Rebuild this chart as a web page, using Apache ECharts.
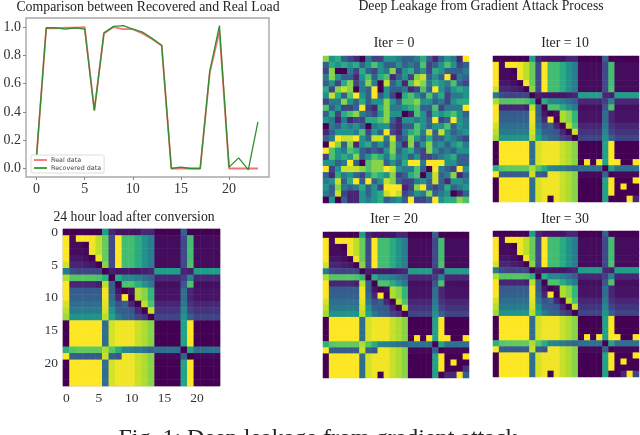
<!DOCTYPE html>
<html>
<head>
<meta charset="utf-8">
<title>Deep leakage from gradient attack</title>
<script src="https://cdn.jsdelivr.net/npm/echarts@6/dist/echarts.min.js"></script>
<style>
    html, body { margin: 0; padding: 0; background: #fff; overflow: hidden; }
    #main { width: 640px; height: 435px; }
    /* the source figure is a soft, rescaled image */
    #main canvas { filter: blur(0.45px); }
</style>
</head>
<body>
<div id="main"></div>
<script>
// line chart values
var hours = [0, 1, 2, 3, 4, 5, 6, 7, 8, 9, 10, 11, 12, 13, 14, 15, 16, 17, 18, 19, 20, 21, 22, 23];
var realData = [0.09, 0.99, 0.99, 0.995, 0.995, 1.0, 0.41, 0.955, 1.0, 0.985, 0.985, 0.955, 0.915, 0.87, 0, 0, 0, 0, 0.68, 0.97, 0, 0, 0, 0];
var recoveredData = [0.09, 0.995, 0.995, 0.985, 0.995, 0.985, 0.41, 0.96, 1.005, 1.01, 0.985, 0.965, 0.92, 0.87, 0, 0.01, 0, 0, 0.69, 1.01, 0.01, 0.075, -0.01, 0.33];
var lineXTicks = [0, 5, 10, 15, 20];
var lineYTicks = [0, 0.2, 0.4, 0.6, 0.8, 1.0];
var heatTicks = [0, 5, 10, 15, 20];

// colour levels 0..10 of each cell, 24 hour load after conversion
var loadMatrix = [
    [0, 0, 0, 0, 0, 0, 5.5, 1, .5, .5, .5, .5, 1, 1, 0, 0, 0, 0, 3, 0, 0, 0, 0, 0],
    [9.8, .3, 9.8, 9.8, 9.6, 8.8, 7.5, 2.2, 9.8, 6.8, 6.8, 6, 5, 4.2, .3, .3, .3, .3, 2.2, 6.8, .3, .3, .3, .3],
    [9.8, .3, .3, 0, 9.6, 8.8, 7.5, 2.2, 9.8, 6.8, 6.8, 6, 5, 4.2, .3, .3, .3, .3, 2.2, 6.8, .3, .3, .3, .3],
    [9.8, .3, .3, .2, 9.6, 8.8, 7.5, 2.2, 9.8, 6.8, 6.8, 6, 5, 4.2, .3, .3, .3, .3, 2.2, 6.8, .3, .3, .3, .3],
    [9.8, .6, .6, .4, 0, 9.6, 7.5, 2.2, 9.8, 6.8, 6.8, 6, 5, 4.2, .3, .3, .3, .3, 2.2, 6.8, .3, .3, .3, .3],
    [9.2, 1, 1, .8, .6, 0, 8, 2.2, 9.8, 6.8, 6.8, 6, 5, 4.2, .3, .3, .3, .3, 2.2, 7, .3, .3, .3, .3],
    [4, 2.2, 2, 2, 2, 2, 0, .8, .6, .6, .6, .6, .8, 1, 5.5, 5.5, 5.5, 5.5, 1, .8, 5.5, 5.5, 5.5, 5.5],
    [8.6, 7.2, 7.2, 7.2, 7.2, 7, 6.2, 0, 6, 4.6, 4.6, 4.2, 3.5, 3, 1, 1, 1, 1, 1.8, 4.4, 1, 1, 1, 1],
    [9.8, 1, 1, 1, 1, .8, 8.8, 3, 0, 7, 7, 6, 5, 4, .4, .4, .4, .4, 2.6, 7, .4, .4, .4, .4],
    [9.8, 2.8, 2.8, 2.8, 2.8, 2.8, 9.6, 3, .6, 0, .4, 8.6, 8, 6.5, .5, .5, .5, .5, 3.5, 1, .5, .5, .5, .5],
    [9.8, 3, 3, 3, 3, 3, 9.6, 3.4, 1, 9.8, 0, 8.6, 8, 6.5, .5, .5, .5, .5, 3.5, 1, .5, .5, .5, .5],
    [9.2, 3.5, 3.5, 3.5, 3.5, 3.5, 9.4, 4, 2.4, 3, 1, 0, 8.8, 7, 1, 1, 1, 1, 4, 1.5, 1, 1, 1, 1],
    [8.8, 4, 4, 4, 4, 4, 9.2, 5, 3, 2.8, 2.6, 1, 0, 9, 1.5, 1.5, 1.5, 1.5, 4.5, 2, 1.5, 1.5, 1.5, 1.5],
    [8.4, 5, 5, 5, 5, 5, 8.8, 5.6, 4, 3.2, 3, 2, 1.5, 0, 2, 2, 2, 2, 5, 3, 2, 2, 2, 2],
    [0, 9.8, 9.8, 9.8, 9.8, 9.8, 3.5, 9.2, 9.6, 9.6, 9.6, 9, 8.6, 8, 0, 0, 0, 0, 5.6, 9.8, 0, 0, 0, 0],
    [0, 9.8, 9.8, 9.8, 9.8, 9.8, 3.5, 9.2, 9.6, 9.6, 9.6, 9, 8.6, 8, 0, 0, 0, 0, 5.6, 9.8, 0, 0, 0, 0],
    [0, 9.8, 9.8, 9.8, 9.8, 9.8, 3.5, 9.2, 9.6, 9.6, 9.6, 9, 8.6, 8, 0, 0, 0, 0, 5.6, 9.8, 0, 0, 0, 0],
    [0, 9.8, 9.8, 9.8, 9.8, 9.8, 3.5, 9.2, 9.6, 9.6, 9.6, 9, 8.6, 8, 0, 0, 0, 0, 5.6, 9.8, 0, 0, 0, 0],
    [6.2, 7.2, 7.4, 7.4, 7.4, 7.4, 8.6, 7.2, 6, 4.6, 4.4, 4, 3.6, 3.2, 3.6, 3.6, 3.6, 3.6, 0, 5.6, 3.6, 3.6, 3.6, 3.6],
    [9.8, 3, 2.8, 2.8, 2.8, 2.8, 9, 3, 2.6, 9.6, 9.6, 9, 8.6, 8, .2, .2, .2, .2, 3, 0, .2, .2, .2, .2],
    [0, 9.8, 9.8, 9.8, 9.8, 9.8, 3.5, 9.2, 9.6, 9.6, 9.6, 9, 8.6, 8, 0, 0, 0, 0, 5.6, 9.8, 0, 0, 0, 0],
    [0, 9.8, 9.8, 9.8, 9.8, 9.8, 3.5, 9.2, 9.6, 9.6, 9.6, 9, 8.6, 8, 0, 0, 0, 0, 5.6, 9.8, 0, 0, 0, 0],
    [0, 9.8, 9.8, 9.8, 9.8, 9.8, 3.5, 9.2, 9.6, 9.6, 9.6, 9, 8.6, 8, 0, 0, 0, 0, 5.6, 9.8, 0, 0, 0, 0],
    [0, 9.8, 9.8, 9.8, 9.8, 9.8, 3.5, 9.2, 9.6, 9.6, 9.6, 9, 8.6, 8, 0, 0, 0, 0, 5.6, 9.8, 0, 0, 0, 0]
];

// the starting noise of the attack
var iter0Matrix = [
    [8, 5, 6, 3, 2, 1, 0, 4, 2, 2, 5, 5, 4, 3, 3, 4, 6, 3, 1, 3, 5, 4, 1, 10],
    [3, 6, 5, 6, 5, 6, 3, 5, 7, 5, 3, 3, 5, 3, 4, 3, 7, 2, 3, 5, 7, 5, 2, 3],
    [2, 8, 0, 0, 4, 2, 6, 3, 2, 5, 4, 8, 2, 5, 6, 3, 5, 2, 6, 5, 3, 3, 3, 4],
    [4, 8, 5, 3, 3, 1, 5, 7, 3, 6, 7, 1, 3, 5, 2, 8, 9, 3, 5, 3, 10, 1, 4, 3],
    [3, 5, 2, 6, 8, 2, 4, 8, 4, 0, 9, 3, 5, 1, 7, 9, 8, 4, 6, 5, 4, 7, 3, 2],
    [6, 2, 8, 9, 8, 0, 4, 3, 10, 0, 5, 3, 3, 4, 1, 2, 7, 3, 10, 5, 3, 5, 6, 5],
    [5, 9, 6, 3, 7, 10, 5, 3, 10, 3, 5, 2, 0, 6, 7, 5, 3, 7, 4, 6, 2, 4, 4, 5],
    [2, 4, 4, 8, 5, 3, 6, 3, 5, 5, 8, 5, 3, 7, 7, 8, 5, 5, 3, 4, 2, 5, 6, 6],
    [7, 3, 5, 2, 2, 3, 10, 2, 1, 6, 8, 4, 4, 5, 6, 7, 3, 3, 7, 2, 4, 4, 4, 10],
    [3, 6, 2, 6, 7, 8, 4, 3, 2, 5, 8, 5, 5, 0, 1, 7, 5, 2, 6, 5, 6, 7, 5, 3],
    [5, 4, 1, 4, 1, 2, 2, 6, 6, 7, 8, 3, 1, 5, 5, 4, 5, 3, 10, 2, 3, 10, 5, 4],
    [0, 4, 3, 5, 4, 5, 3, 0, 4, 5, 5, 2, 1, 3, 3, 7, 5, 3, 5, 5, 7, 3, 5, 4],
    [1, 3, 5, 5, 5, 4, 7, 2, 5, 3, 10, 2, 1, 4, 6, 7, 4, 9, 3, 9, 5, 3, 4, 5],
    [3, 4, 10, 9, 9, 10, 5, 3, 9, 9, 4, 9, 2, 3, 8, 5, 3, 6, 3, 3, 5, 4, 3, 2],
    [0, 10, 8, 3, 8, 1, 5, 6, 3, 5, 3, 8, 4, 1, 8, 2, 5, 8, 4, 5, 3, 5, 6, 4],
    [10, 7, 5, 4, 7, 6, 3, 2, 3, 2, 5, 8, 3, 5, 6, 3, 2, 8, 5, 3, 4, 3, 5, 5],
    [2, 7, 5, 6, 5, 8, 3, 5, 7, 6, 4, 7, 4, 5, 3, 5, 2, 2, 3, 4, 5, 6, 3, 3],
    [5, 5, 3, 4, 10, 3, 0, 7, 8, 8, 3, 5, 3, 6, 10, 10, 4, 10, 10, 10, 5, 5, 3, 3],
    [10, 2, 5, 9, 9, 9, 8, 7, 8, 8, 10, 9, 5, 4, 4, 7, 3, 0, 10, 4, 3, 2, 10, 5],
    [3, 1, 6, 4, 5, 3, 2, 5, 7, 6, 5, 8, 2, 3, 6, 7, 0, 4, 9, 3, 4, 8, 1, 3],
    [4, 5, 9, 3, 6, 10, 3, 10, 3, 5, 9, 8, 3, 2, 2, 4, 5, 3, 9, 3, 1, 5, 5, 4],
    [5, 3, 8, 4, 3, 4, 6, 3, 5, 2, 10, 10, 10, 1, 2, 8, 10, 3, 2, 3, 6, 3, 4, 5],
    [4, 3, 9, 2, 1, 1, 5, 3, 5, 6, 9, 10, 9, 2, 3, 5, 4, 8, 3, 4, 5, 0, 1, 3],
    [0, 5, 0, 3, 1, 1, 5, 4, 5, 6, 3, 4, 5, 3, 10, 2, 2, 3, 10, 5, 6, 6, 8, 7]
];

// cells where the later iterations still differ from the load: [row, col, level]
var iter10Cells = [[17, 15, 10], [17, 17, 10], [17, 20, 10], [17, 23, 10], [20, 23, 10], [21, 21, 10], [23, 22, 10], [23, 19, 0], [23, 9, 0], [23, 23, 1]];
var iter20Cells = [[17, 15, 10], [17, 17, 10], [17, 20, 10], [17, 23, 10], [20, 23, 10], [21, 21, 10], [23, 22, 10], [23, 19, 0], [23, 9, 0], [22, 23, 1.5], [23, 23, 3], [23, 20, 1], [23, 21, 1]];
var iter30Cells = [[17, 15, 10], [17, 17, 10], [17, 20, 10], [17, 23, 10], [20, 23, 10], [21, 21, 10], [23, 22, 10], [23, 19, 0], [23, 9, 0], [23, 23, 2], [23, 21, 1]];

var viridis = ['#440154', '#482878', '#3e4989', '#31688e', '#26828e', '#1f9e89', '#35b779', '#6ece58', '#b5de2b', '#fde725'];
var serif = '"Liberation Serif", "Times New Roman", serif';

function patched(cells) {
    var m = loadMatrix.map(function (row) { return row.slice(); });
    cells.forEach(function (c) { m[c[0]][c[1]] = c[2]; });
    return m;
}

function cellData(matrix) {
    var out = [];
    for (var r = 0; r < 24; r++) {
        for (var c = 0; c < 24; c++) {
            out.push([c, r, matrix[r][c]]);
        }
    }
    return out;
}

var panels = [
    { matrix: loadMatrix, left: 63, top: 229, width: 157, height: 157, axes: true },
    { matrix: iter0Matrix, left: 323, top: 56, width: 146, height: 147, axes: false },
    { matrix: patched(iter10Cells), left: 493, top: 56, width: 146, height: 146, axes: false },
    { matrix: patched(iter20Cells), left: 323, top: 232, width: 146, height: 146, axes: false },
    { matrix: patched(iter30Cells), left: 493, top: 231, width: 146, height: 146, axes: false }
];

var grids = [{ left: 26, top: 18, width: 243, height: 159, show: true, borderColor: '#a8a8a8', borderWidth: 1.4 }];
var xAxes = [{
    type: 'value', gridIndex: 0, min: -1.1, max: 24.15, splitLine: { show: false },
    axisLine: { show: false, onZero: false },
    axisTick: { customValues: lineXTicks, length: 3, lineStyle: { color: '#888' } },
    axisLabel: { customValues: lineXTicks, fontFamily: serif, fontSize: 14, color: '#333', margin: 5 }
}];
var yAxes = [{
    type: 'value', gridIndex: 0, min: -0.06, max: 1.064, splitLine: { show: false },
    axisLine: { show: false, onZero: false },
    axisTick: { customValues: lineYTicks, length: 3, lineStyle: { color: '#888' } },
    axisLabel: {
        customValues: lineYTicks, fontFamily: serif, fontSize: 14, color: '#333', margin: 5,
        formatter: function (v) { return v.toFixed(1); }
    }
}];
var seriesList = [
    {
        name: 'Real data', type: 'line', xAxisIndex: 0, yAxisIndex: 0, showSymbol: false,
        data: hours.map(function (h, i) { return [h, realData[i]]; }),
        lineStyle: { color: '#f25050', width: 1.8, opacity: 0.8 }, itemStyle: { color: '#f58080' }
    },
    {
        name: 'Recovered data', type: 'line', xAxisIndex: 0, yAxisIndex: 0, showSymbol: false,
        data: hours.map(function (h, i) { return [h, recoveredData[i]]; }),
        lineStyle: { color: '#2f8f2f', width: 1.3 }, itemStyle: { color: '#4a9f4a' }
    }
];

panels.forEach(function (p, i) {
    var idx = i + 1;
    grids.push({
        left: p.left, top: p.top, width: p.width, height: p.height,
        show: p.axes, borderColor: '#c4c4c4', borderWidth: 1
    });
    var axisBase = {
        type: 'category', gridIndex: idx, data: hours, show: p.axes,
        axisLine: { show: false, onZero: false },
        splitLine: { show: false }, splitArea: { show: false },
        axisTick: {
            alignWithLabel: true, length: 3, lineStyle: { color: '#888' },
            interval: function (v) { return heatTicks.indexOf(v) >= 0; }
        },
        axisLabel: {
            fontFamily: serif, fontSize: 13.5, color: '#333', margin: 5,
            interval: function (v) { return heatTicks.indexOf(v) >= 0; }
        }
    };
    xAxes.push(axisBase);
    yAxes.push(Object.assign({}, axisBase, { inverse: true }));
    seriesList.push({
        type: 'heatmap', xAxisIndex: idx, yAxisIndex: idx, silent: true,
        data: cellData(p.matrix), itemStyle: { borderWidth: 0 }, progressive: 0
    });
});

function label(text, x, y, size) {
    return {
        text: text, left: x, top: y, textAlign: 'center', padding: 0,
        textStyle: { fontFamily: serif, fontWeight: 'normal', fontSize: size, color: '#222' }
    };
}

var option = {
    animation: false,
    backgroundColor: '#fff',
    title: [
        label('Comparison between Recovered and Real Load', 148, 0, 13.8),
        label('Deep Leakage from Gradient Attack Process', 481, -1, 13.7),
        label('24 hour load after conversion', 134, 210, 13.7),
        label('Iter = 0', 394, 36, 13.8),
        label('Iter = 10', 565, 36, 13.8),
        label('Iter = 20', 394, 212, 13.8),
        label('Iter = 30', 565, 212, 13.8),
        label('Fig. 1: Deep leakage from gradient attack', 318, 427, 24)
    ],
    legend: {
        data: ['Real data', 'Recovered data'],
        orient: 'vertical', left: 31, top: 155,
        padding: [2, 3, 2, 3], itemGap: 2, itemWidth: 13, itemHeight: 2, icon: 'rect',
        backgroundColor: '#fff', borderColor: '#ddd', borderWidth: 1, borderRadius: 2,
        textStyle: { fontFamily: '"DejaVu Sans", sans-serif', fontSize: 6.4, color: '#444', padding: [0, 0, 0, -1] }
    },
    visualMap: {
        show: false, min: 0, max: 9.8, seriesIndex: [2, 3, 4, 5, 6],
        inRange: { color: viridis }
    },
    grid: grids,
    xAxis: xAxes,
    yAxis: yAxes,
    series: seriesList
};

var myChart = echarts.init(document.getElementById('main'), null, { renderer: 'canvas' });
myChart.setOption(option);
</script>
</body>
</html>
